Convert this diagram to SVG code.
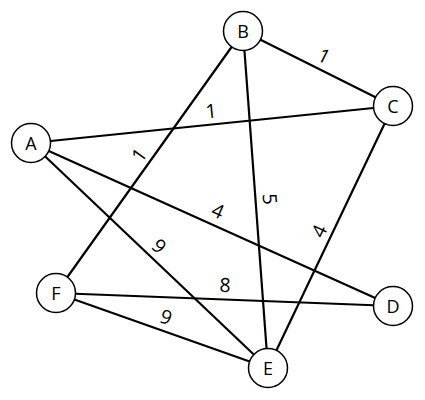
<svg xmlns="http://www.w3.org/2000/svg" width="425" height="400" viewBox="0 0 425 400">
<style>
.edge{stroke:#000;stroke-width:2.2;fill:none}
.node circle{fill:#fff;stroke:#000;stroke-width:1.5}
.node text{font-family:"Open Sans","Noto Sans",sans-serif;font-size:18px;text-anchor:middle;fill:#000}
.lbl{font-family:"Open Sans","Noto Sans",sans-serif;font-size:19.5px;text-anchor:middle;fill:#000}
</style>
<rect width="425" height="400" fill="#fff"/>
<g id="connectors">
<line class="edge" x1="243" y1="31" x2="393" y2="106"/>
<line class="edge" x1="31" y1="143" x2="393" y2="106"/>
<line class="edge" x1="243" y1="31" x2="56" y2="293"/>
<line class="edge" x1="243" y1="31" x2="268" y2="368"/>
<line class="edge" x1="393" y1="106" x2="268" y2="368"/>
<line class="edge" x1="31" y1="143" x2="393" y2="306"/>
<line class="edge" x1="31" y1="143" x2="268" y2="368"/>
<line class="edge" x1="56" y1="293" x2="393" y2="306"/>
<line class="edge" x1="56" y1="293" x2="268" y2="368"/>
<text class="lbl" transform="translate(324,56) rotate(26.6)" y="7">1</text>
<text class="lbl" transform="translate(211,111) rotate(-5.8)" y="7">1</text>
<text class="lbl" transform="translate(139,155) rotate(-54.5)" y="7">1</text>
<text class="lbl" transform="translate(270,199) rotate(85.8)" y="7">5</text>
<text class="lbl" transform="translate(319,231) rotate(-64.5)" y="7">4</text>
<text class="lbl" transform="translate(218,211) rotate(24.2)" y="7">4</text>
<text class="lbl" transform="translate(159,246) rotate(43.5)" y="7">9</text>
<text class="lbl" transform="translate(225,285) rotate(2.2)" y="7">8</text>
<text class="lbl" transform="translate(166,317) rotate(19.5)" y="7">9</text>
</g>
<g id="node-A" class="node"><circle cx="31" cy="143" r="19.5"/><text x="31" y="149.5">A</text></g>
<g id="node-B" class="node"><circle cx="243" cy="31" r="19.5"/><text x="243" y="37.5">B</text></g>
<g id="node-C" class="node"><circle cx="393" cy="106" r="19.5"/><text x="393" y="112.5">C</text></g>
<g id="node-D" class="node"><circle cx="393" cy="306" r="19.5"/><text x="393" y="312.5">D</text></g>
<g id="node-E" class="node"><circle cx="268" cy="368" r="19.5"/><text x="268" y="374.5">E</text></g>
<g id="node-F" class="node"><circle cx="56" cy="293" r="19.5"/><text x="56" y="299.5">F</text></g>
</svg>
